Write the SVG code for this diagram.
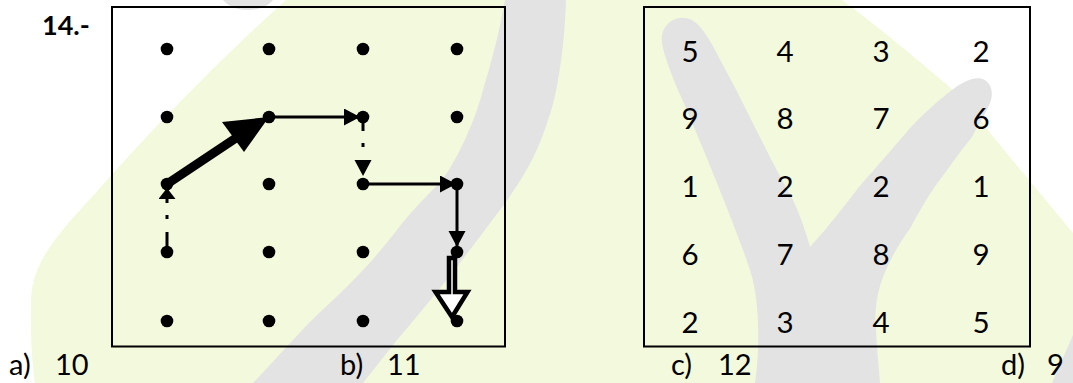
<svg xmlns="http://www.w3.org/2000/svg" width="1073" height="383" viewBox="0 0 1073 383">
<style>
.bg-y{fill:#f3f9dc}
.bg-g{fill:#e3e3e3}
.box{fill:none;stroke:#000;stroke-width:2}
.dot{fill:#000}
.ln{stroke:#000;stroke-width:3;fill:none}
.num{font-family:Lato,"Liberation Sans",sans-serif;font-size:29.5px;fill:#000;text-anchor:middle}
.lbl{font-family:Lato,"Liberation Sans",sans-serif;font-size:29px;fill:#000}
.title{font-family:Lato,"Liberation Sans",sans-serif;font-size:27px;font-weight:bold;fill:#000}
</style>
<defs>
<marker id="head" markerUnits="userSpaceOnUse" markerWidth="17" markerHeight="18" refX="16" refY="8.5" orient="auto" viewBox="0 0 17 18">
<path d="M0,0 L16,8.5 L0,17 Z" fill="#000"/>
</marker>
<marker id="headS" markerUnits="userSpaceOnUse" markerWidth="12" markerHeight="18" refX="11" refY="8.5" orient="auto" viewBox="0 0 12 18">
<path d="M0,0 L11,8.5 L0,17 Z" fill="#000"/>
</marker>
</defs>
<rect width="1073" height="383" fill="#fff"/>
<g id="background">
<path class="bg-y" d="M286,0 L842,0 C880,28 920,62 945,83 C965,100 980,118 990,133 L1073,233 L1073,383 L35,383 C33,370 30,340 31,300 C32,260 60,232 100,188 C160,120 230,50 286,0 Z"/>
<path class="bg-g" d="M253,383 C280,355 305,325 330,303 C360,275 380,252 397,230 C420,200 435,190 447,173 C465,145 478,110 483,90 C492,60 500,30 505,0 L566,0 C565,40 558,95 548,120 C540,145 530,170 500,210 C470,250 440,290 397,340 L363,383 Z"/>
<ellipse class="bg-g" cx="248" cy="-8" rx="28" ry="18"/>
<path class="bg-g" d="M1073,335 L1073,383 L1052,383 Z"/>
<path class="bg-g" d="M755,383 C760,350 760,300 750,270 C735,225 700,140 675,83 C668,65 660,45 662,35 C665,20 680,14 692,20 C705,28 715,50 724,67 C745,105 770,160 793,200 C800,215 806,232 810,247 C830,225 845,205 859,187 C880,163 900,140 911,127 C930,107 945,95 956,87 C968,79 978,76 985,80 C993,86 993,95 990,103 C985,115 978,125 972,137 C960,152 952,163 945,173 C930,192 920,210 911,227 C898,245 890,260 886,270 C877,290 874,310 876,330 C877,350 879,370 880,383 Z"/>
</g>
<text class="title" x="42" y="35">14.-</text>
<rect id="box-left" class="box" x="112" y="7" width="393" height="339.5"/>
<rect id="box-right" class="box" x="644" y="7" width="386" height="339.5"/>
<g id="connectors">
<line class="ln" x1="167" y1="252" x2="167" y2="188" stroke-dasharray="20 13 4 12 40" marker-end="url(#headS)"/>
<line x1="167" y1="184" x2="236" y2="138" stroke="#000" stroke-width="9"/>
<path d="M269,117 L222,122 L244,152 Z" fill="#000"/>
<line class="ln" x1="269" y1="117" x2="360" y2="117" marker-end="url(#head)"/>
<line class="ln" x1="363" y1="117" x2="363" y2="176" stroke-dasharray="14 12 4 40" marker-end="url(#head)"/>
<line class="ln" x1="363" y1="184" x2="456" y2="184" marker-end="url(#head)"/>
<line class="ln" x1="457" y1="184" x2="457" y2="247" marker-end="url(#head)"/>
<path d="M449,258 L455,258 L455,292 L467.5,292 L452,317 L435.5,292 L449,292 Z" fill="#fff" stroke="#000" stroke-width="4.5" stroke-linejoin="miter"/>
</g>
<g id="dots">
<g id="d-1-1"><circle class="dot" cx="167" cy="49" r="6.3"/></g>
<g id="d-1-2"><circle class="dot" cx="269" cy="49" r="6.3"/></g>
<g id="d-1-3"><circle class="dot" cx="363" cy="49" r="6.3"/></g>
<g id="d-1-4"><circle class="dot" cx="457" cy="49" r="6.3"/></g>
<g id="d-2-1"><circle class="dot" cx="167" cy="117" r="6.3"/></g>
<g id="d-2-2"><circle class="dot" cx="269" cy="117" r="6.3"/></g>
<g id="d-2-3"><circle class="dot" cx="363" cy="117" r="6.3"/></g>
<g id="d-2-4"><circle class="dot" cx="457" cy="117" r="6.3"/></g>
<g id="d-3-1"><circle class="dot" cx="167" cy="184" r="6.3"/></g>
<g id="d-3-2"><circle class="dot" cx="269" cy="184" r="6.3"/></g>
<g id="d-3-3"><circle class="dot" cx="363" cy="184" r="6.3"/></g>
<g id="d-3-4"><circle class="dot" cx="457" cy="184" r="6.3"/></g>
<g id="d-4-1"><circle class="dot" cx="167" cy="252" r="6.3"/></g>
<g id="d-4-2"><circle class="dot" cx="269" cy="252" r="6.3"/></g>
<g id="d-4-3"><circle class="dot" cx="363" cy="252" r="6.3"/></g>
<g id="d-4-4"><circle class="dot" cx="457" cy="252" r="6.3"/></g>
<g id="d-5-1"><circle class="dot" cx="167" cy="321" r="6.3"/></g>
<g id="d-5-2"><circle class="dot" cx="269" cy="321" r="6.3"/></g>
<g id="d-5-3"><circle class="dot" cx="363" cy="321" r="6.3"/></g>
<g id="d-5-4"><circle class="dot" cx="457" cy="321" r="6.3"/></g>
</g>
<g id="grid-numbers">
<text class="num" x="690" y="62">5</text><text class="num" x="785" y="62">4</text><text class="num" x="881" y="62">3</text><text class="num" x="981" y="62">2</text>
<text class="num" x="690" y="129">9</text><text class="num" x="785" y="129">8</text><text class="num" x="881" y="129">7</text><text class="num" x="981" y="129">6</text>
<text class="num" x="690" y="197">1</text><text class="num" x="785" y="197">2</text><text class="num" x="881" y="197">2</text><text class="num" x="981" y="197">1</text>
<text class="num" x="690" y="265">6</text><text class="num" x="785" y="265">7</text><text class="num" x="881" y="265">8</text><text class="num" x="981" y="265">9</text>
<text class="num" x="690" y="333">2</text><text class="num" x="785" y="333">3</text><text class="num" x="881" y="333">4</text><text class="num" x="981" y="333">5</text>
</g>
<g id="options">
<text class="lbl" x="9" y="375">a)</text><text class="lbl" x="55" y="375">10</text>
<text class="lbl" x="340" y="375">b)</text><text class="lbl" x="387" y="375">11</text>
<text class="lbl" x="671" y="375">c)</text><text class="lbl" x="718" y="375">12</text>
<text class="lbl" x="1001" y="375">d)</text><text class="lbl" x="1047" y="375">9</text>
</g>
</svg>
